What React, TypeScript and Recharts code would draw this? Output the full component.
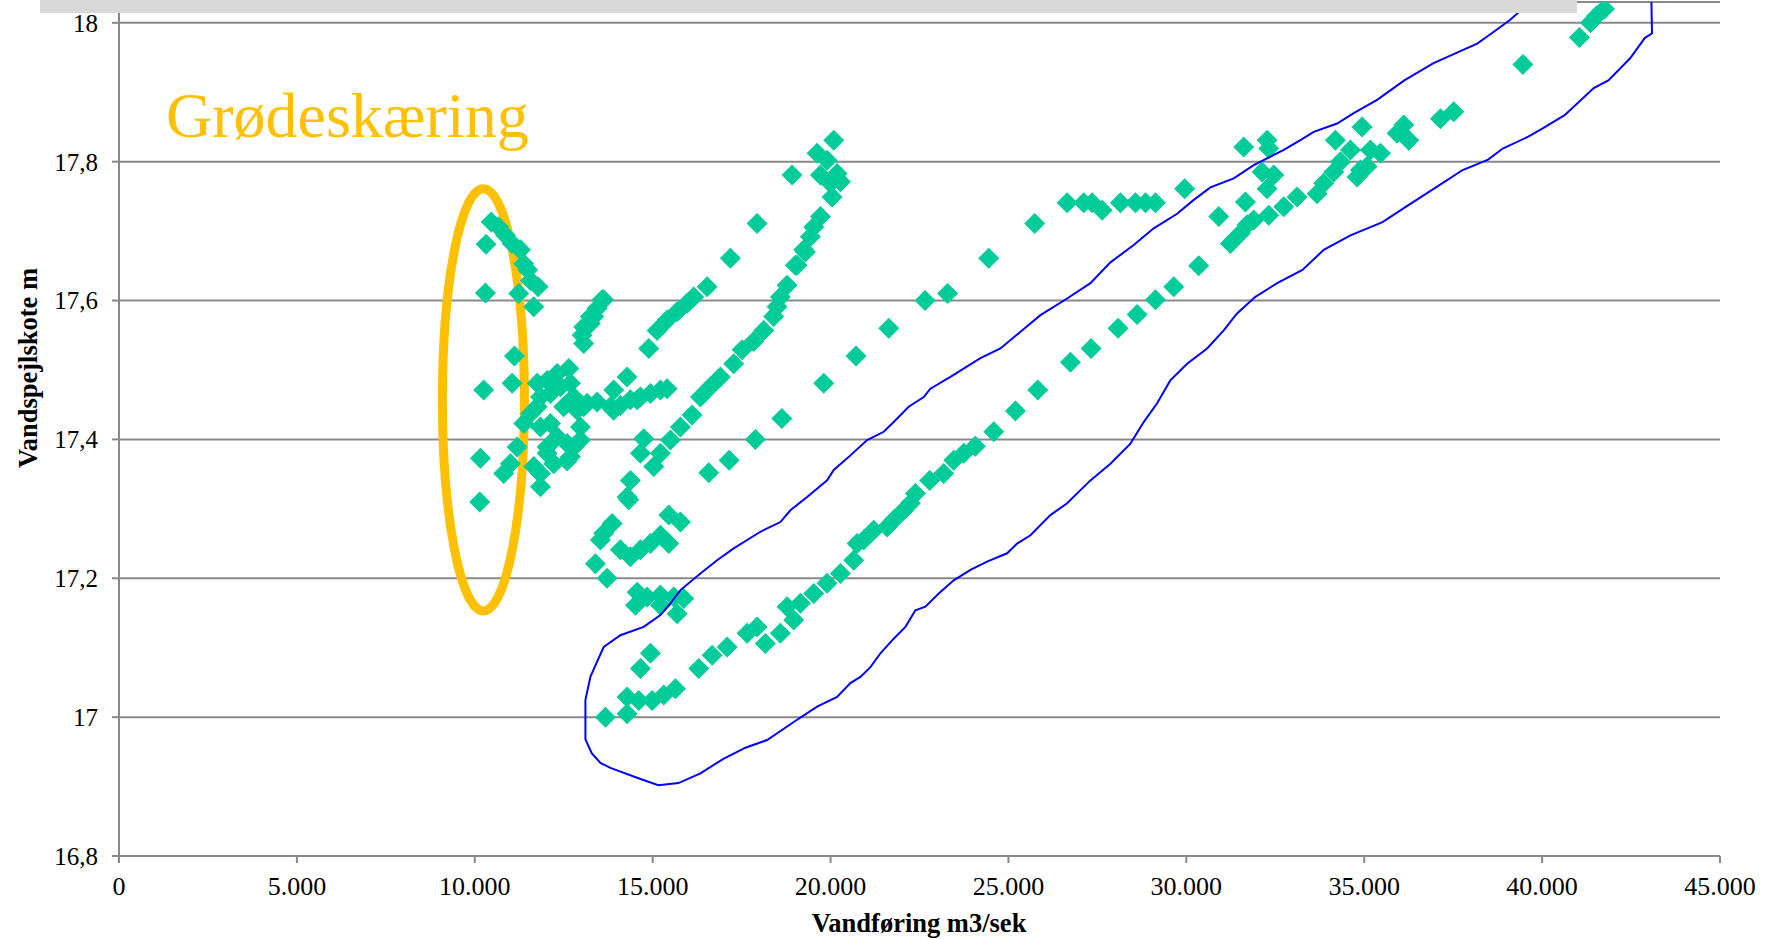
import { ScatterChart, Scatter, XAxis, YAxis, CartesianGrid, ReferenceArea } from "recharts";

// Axis ticks
const Q_TICKS = [0, 5000, 10000, 15000, 20000, 25000, 30000, 35000, 40000, 45000];
const H_TICKS = [16.8, 17, 17.2, 17.4, 17.6, 17.8, 18];

// Measurements [vandføring, vandspejlskote], grouped by visible branch
const ellipsePts: [number, number][] = [
  [10139, 17.31], [10158, 17.373], [10251, 17.471], [10299, 17.611], [10318, 17.681], [10461, 17.713],
  [10673, 17.706], [10861, 17.694], [11049, 17.682], [11283, 17.673], [11376, 17.653], [11488, 17.644],
  [11564, 17.629], [11780, 17.62], [11235, 17.61], [11657, 17.591], [11114, 17.52], [11049, 17.481],
  [11190, 17.389], [11001, 17.365], [10813, 17.351],
];

const crossPts: [number, number][] = [
  [11376, 17.423], [11564, 17.437], [11752, 17.447], [11752, 17.481], [11845, 17.461], [12033, 17.485],
  [12126, 17.466], [12314, 17.495], [12407, 17.476], [12641, 17.502], [12688, 17.481], [12500, 17.447],
  [12781, 17.461], [12875, 17.442], [13157, 17.452], [13438, 17.454], [13905, 17.442], [13905, 17.471],
  [14281, 17.49], [14563, 17.457], [11845, 17.418], [12126, 17.423], [12033, 17.389], [12314, 17.404],
  [12595, 17.394], [12969, 17.418], [12781, 17.389], [12688, 17.375], [12219, 17.365], [11845, 17.351],
  [11845, 17.332], [12033, 17.38], [11657, 17.361], [12969, 17.399], [12595, 17.369],
  [13062, 17.447], [13812, 17.447], [14093, 17.449], [14374, 17.457], [14656, 17.461], [14937, 17.466],
  [15218, 17.471], [15406, 17.473],
];

const shortBranch: [number, number][] = [
  [13016, 17.55], [13062, 17.538], [13062, 17.562], [13250, 17.567], [13250, 17.577], [13344, 17.577],
  [13438, 17.589], [13579, 17.601], [13623, 17.601],
];

const midBranch: [number, number][] = [
  [14890, 17.531], [15125, 17.557], [15406, 17.572], [15687, 17.584], [15968, 17.596], [16154, 17.605],
  [16530, 17.62], [17185, 17.661], [17935, 17.711],
];

const steepBranch: [number, number][] = [
  [15218, 17.38], [15499, 17.399], [15780, 17.418], [16108, 17.435], [16342, 17.461], [16623, 17.476],
  [16904, 17.49], [17278, 17.509], [17514, 17.529], [17840, 17.541], [18121, 17.557], [18402, 17.577],
  [18496, 17.591], [18590, 17.605], [18778, 17.622], [19059, 17.651], [19012, 17.651], [19246, 17.673],
  [19293, 17.67], [19433, 17.692], [19527, 17.706], [19715, 17.721], [19715, 17.781], [19621, 17.812],
  [19902, 17.802], [20089, 17.831], [20183, 17.783], [20277, 17.771], [19996, 17.769], [20043, 17.749],
  [18918, 17.781],
];

const lowLeftPts: [number, number][] = [
  [13390, 17.221], [13531, 17.255], [13719, 17.2], [13860, 17.279], [13625, 17.265], [14093, 17.241],
  [14374, 17.231], [14656, 17.241], [14937, 17.25], [15218, 17.262], [15452, 17.25], [15452, 17.291],
  [15780, 17.281], [14281, 17.317], [14328, 17.313], [14374, 17.341], [14656, 17.38], [14749, 17.401],
  [15031, 17.361], [14563, 17.18], [14515, 17.161], [14843, 17.173], [15218, 17.176], [15593, 17.173],
  [15874, 17.171], [15687, 17.149], [15218, 17.161],
];

const sparsePts: [number, number][] = [
  [16576, 17.352], [17150, 17.37], [17888, 17.4], [18630, 17.43], [19808, 17.481], [20715, 17.52],
  [21635, 17.56], [22657, 17.6], [23290, 17.61], [24446, 17.661], [25738, 17.711], [26649, 17.741],
  [27117, 17.741], [27352, 17.741], [27633, 17.73], [28147, 17.741], [28569, 17.741], [28850, 17.741],
  [29131, 17.741], [29954, 17.761],
];

const mainBand: [number, number][] = [
  [13672, 17.0], [14281, 17.005], [14281, 17.029], [14609, 17.024], [14984, 17.024], [15312, 17.032],
  [15640, 17.041], [14656, 17.07], [14937, 17.092], [16295, 17.07], [16671, 17.089], [17092, 17.101],
  [17654, 17.121], [17935, 17.13], [18168, 17.106], [18590, 17.121], [18778, 17.159], [18965, 17.14],
  [19153, 17.164], [19527, 17.178], [19902, 17.193], [20277, 17.207], [20651, 17.226], [20745, 17.25],
  [20932, 17.255], [21213, 17.269], [21589, 17.274], [21776, 17.284], [22057, 17.298], [22244, 17.308],
  [22385, 17.322], [22787, 17.341], [23180, 17.351], [23462, 17.37], [23743, 17.38], [24071, 17.39],
  [24587, 17.411], [25196, 17.441], [25823, 17.471], [26743, 17.511], [27323, 17.531], [28082, 17.56],
  [28617, 17.58], [29131, 17.601], [29646, 17.62], [30348, 17.65],
];

const upperRight: [number, number][] = [
  [30911, 17.721], [31238, 17.682], [31520, 17.697], [31707, 17.709], [31895, 17.716], [31660, 17.742],
  [31613, 17.821], [32270, 17.831], [32317, 17.819], [32129, 17.785], [32457, 17.781], [32270, 17.761],
  [32317, 17.723], [32738, 17.735], [33113, 17.749], [33675, 17.754], [33862, 17.769], [34143, 17.785],
  [34190, 17.831], [34331, 17.8], [34612, 17.817], [34893, 17.788], [34940, 17.85], [35174, 17.817],
  [35455, 17.812], [35080, 17.793], [34799, 17.778], [35924, 17.841], [36111, 17.853], [36252, 17.831],
  [37142, 17.862], [37517, 17.872], [39459, 17.94], [41049, 17.979], [41358, 18.0], [41527, 18.01],
  [41752, 18.02],
];

// Blue envelope drawn around the main rating curve
const envelope: [number, number][] = [
  [40017, 18.03], [39405, 18.018], [39095, 18.004], [38584, 17.985], [38176, 17.97], [37561, 17.956],
  [36948, 17.942], [36127, 17.917], [35362, 17.889], [34705, 17.87], [34238, 17.855], [33580, 17.843],
  [33207, 17.831], [32737, 17.817], [31894, 17.795], [31332, 17.776], [30677, 17.763], [30208, 17.745],
  [29741, 17.725], [29083, 17.704], [28521, 17.68], [27866, 17.655], [27304, 17.625], [26649, 17.603],
  [25899, 17.579], [24774, 17.531], [24212, 17.517], [23369, 17.49], [22806, 17.473], [22619, 17.461],
  [22197, 17.447], [21775, 17.425], [21494, 17.411], [21028, 17.399], [20558, 17.377], [20089, 17.356],
  [19903, 17.341], [19341, 17.317], [18871, 17.298], [18590, 17.281], [18028, 17.267], [17278, 17.243],
  [16811, 17.226], [16342, 17.207], [15780, 17.183], [15499, 17.164], [15218, 17.147], [14748, 17.13],
  [14093, 17.118], [13624, 17.101], [13438, 17.08], [13250, 17.058], [13110, 17.025], [13110, 16.968],
  [13287, 16.948], [13531, 16.934], [13812, 16.927], [14599, 16.912], [15161, 16.902], [15724, 16.905],
  [16342, 16.919], [16988, 16.94], [17607, 16.956], [18217, 16.967], [18964, 16.993], [19622, 17.015],
  [20184, 17.029], [20558, 17.049], [20839, 17.058], [21121, 17.072], [21402, 17.092], [21775, 17.113],
  [22104, 17.13], [22385, 17.154], [22666, 17.159], [23040, 17.178], [23462, 17.197], [23931, 17.212],
  [24400, 17.224], [24963, 17.236], [25244, 17.25], [25618, 17.262], [26179, 17.291], [26649, 17.308],
  [27304, 17.341], [27866, 17.365], [28428, 17.394], [28802, 17.425], [29179, 17.452], [29549, 17.485],
  [30022, 17.509], [30584, 17.531], [31051, 17.557], [31419, 17.581], [31931, 17.605], [32552, 17.625],
  [33263, 17.644], [33862, 17.673], [34612, 17.694], [35514, 17.713], [36231, 17.737], [37049, 17.764],
  [37766, 17.788], [38482, 17.803], [38893, 17.819], [39610, 17.836], [40017, 17.848], [40633, 17.867],
  [41451, 17.906], [41861, 17.917], [42474, 17.949], [42884, 17.978], [43089, 17.985], [43072, 18.03],
];

// area marked as "Grødeskæring"
const markQ = [9090, 11395];
const markH = [17.153, 17.761];

const toRows = (pts: [number, number][]) => pts.map(([q, h]) => ({ q, h }));

const measured = toRows([
  ...ellipsePts, ...crossPts, ...shortBranch, ...midBranch, ...steepBranch,
  ...lowLeftPts, ...sparsePts, ...mainBand, ...upperRight,
]);

const GRID = "#898989";
const FONT = "'Liberation Serif', 'Times New Roman', serif";

const fmtQ = (v: number) => (v === 0 ? "0" : `${v / 1000}.000`);
const fmtH = (v: number) => (Number.isInteger(Math.round(v * 10) / 10) ? String(Math.round(v)) : v.toFixed(1).replace(".", ","));

function Diamond(props: any) {
  const { cx, cy } = props;
  if (cx == null || cy == null) return <g />;
  const r = 10.5;
  return <path d={`M${cx} ${cy - r}L${cx + r} ${cy}L${cx} ${cy + r}L${cx - r} ${cy}Z`} fill="#00CC99" />;
}

export default function App() {
  return (
    <div style={{ position: "absolute", left: 0, top: 0, width: 1771, height: 939, background: "#fff", fontFamily: FONT }}>
      <ScatterChart width={1771} height={939} margin={{ top: 2, right: 51, bottom: 0, left: 0 }}>
        <CartesianGrid vertical={false} stroke={GRID} strokeWidth={2} />
        <XAxis
          type="number"
          dataKey="q"
          domain={[0, 45000]}
          ticks={Q_TICKS}
          interval={0}
          tickFormatter={fmtQ}
          height={83}
          tickSize={7}
          tickMargin={14}
          axisLine={{ stroke: GRID, strokeWidth: 2 }}
          tickLine={{ stroke: GRID, strokeWidth: 2 }}
          tick={{ fontSize: 26, fill: "#000", fontFamily: FONT }}
        />
        <YAxis
          type="number"
          dataKey="h"
          domain={[16.8, 18.03]}
          allowDataOverflow
          ticks={H_TICKS}
          interval={0}
          tickFormatter={fmtH}
          width={119}
          tickSize={7}
          tickMargin={14}
          axisLine={{ stroke: GRID, strokeWidth: 2 }}
          tickLine={{ stroke: GRID, strokeWidth: 2 }}
          tick={{ fontSize: 25, fill: "#000", fontFamily: FONT }}
        />
        <Scatter data={measured} shape={Diamond} isAnimationActive={false} />
        <Scatter
          data={toRows(envelope)}
          line={{ stroke: "#0000FF", strokeWidth: 2 }}
          shape={() => <g />}
          isAnimationActive={false}
        />
        <ReferenceArea
          x1={markQ[0]}
          x2={markQ[1]}
          y1={markH[0]}
          y2={markH[1]}
          ifOverflow="visible"
          shape={(p: any) => (
            <ellipse
              cx={p.x + p.width / 2}
              cy={p.y + p.height / 2}
              rx={Math.abs(p.width) / 2}
              ry={Math.abs(p.height) / 2}
              fill="none"
              stroke="#FFC000"
              strokeWidth={9}
            />
          )}
        />
      </ScatterChart>
      <svg width={1771} height={939} style={{ position: "absolute", left: 0, top: 0, pointerEvents: "none" }}>
        <rect x={40} y={0} width={1537} height={13} fill="#D9D9D9" />
        <text x={166} y={137} fontSize={64} fill="#FFC000" fontFamily={FONT}>Grødeskæring</text>
        <text
          transform="translate(28,368) rotate(-90)"
          textAnchor="middle"
          dy="0.35em"
          fontSize={26.5}
          fontWeight="bold"
          fontFamily={FONT}
        >
          Vandspejlskote m
        </text>
        <text x={919} y={932} textAnchor="middle" fontSize={26.5} fontWeight="bold" fontFamily={FONT}>
          Vandføring m3/sek
        </text>
      </svg>
    </div>
  );
}
